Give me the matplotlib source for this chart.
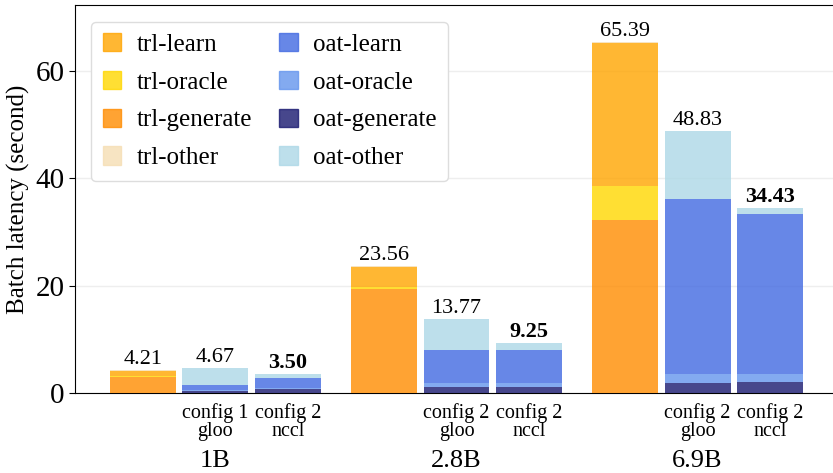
import numpy as np
import matplotlib
matplotlib.use("Agg")
import matplotlib.pyplot as plt
from matplotlib.patches import Patch

plt.rcParams['font.family'] = ['Liberation Serif', 'DejaVu Serif']

sizes = ['1B', '2.8B', '6.9B']
parts = ['generate', 'oracle', 'learn', 'other']

# stacked bottom -> top: generate, oracle, learn, other
trl_generate = [3.00, 19.30, 32.30]
trl_oracle = [0.25, 0.45, 6.20]
trl_learn = [0.80, 3.70, 26.60]
trl_other = [0.16, 0.11, 0.29]
trl_total = [4.21, 23.56, 65.39]

gloo_generate = [0.37, 1.20, 1.86]
gloo_oracle = [0.13, 0.70, 1.74]
gloo_learn = [1.00, 6.10, 32.46]
gloo_other = [3.17, 5.77, 12.77]
gloo_total = [4.67, 13.77, 48.83]
gloo_labels = ['config 1\ngloo', 'config 2\ngloo', 'config 2\ngloo']

nccl_generate = [0.80, 1.20, 2.10]
nccl_oracle = [0.10, 0.70, 1.37]
nccl_learn = [1.90, 6.20, 29.83]
nccl_other = [0.70, 1.15, 1.13]
nccl_total = [3.50, 9.25, 34.43]
nccl_labels = ['config 2\nnccl', 'config 2\nnccl', 'config 2\nnccl']

trl_colors = {'learn': 'orange', 'oracle': 'gold', 'generate': 'darkorange', 'other': 'wheat'}
oat_colors = {'learn': 'royalblue', 'oracle': 'cornflowerblue', 'generate': 'midnightblue', 'other': 'lightblue'}
alpha = 0.8

fig = plt.figure(figsize=(8.33, 4.73), dpi=100)
ax = fig.add_axes([0.09, 0.169, 0.91, 0.82])

gap = 3.33
centers = np.arange(len(sizes)) * gap
width = 0.91


def stack(x, layers, colors, total, bold):
    bottom = np.zeros(len(x))
    for name, vals in zip(parts, layers):
        ax.bar(x, vals, width, bottom=bottom, color=colors[name], alpha=alpha,
               linewidth=0, zorder=3)
        bottom = bottom + np.array(vals)
    for xi, t in zip(x, total):
        ax.text(xi, t + 0.2, f'{t:.2f}', ha='center', va='bottom', fontsize=16,
                fontweight='bold' if bold else 'normal')


stack(centers - 1, [trl_generate, trl_oracle, trl_learn, trl_other], trl_colors, trl_total, False)
stack(centers, [gloo_generate, gloo_oracle, gloo_learn, gloo_other], oat_colors, gloo_total, False)
stack(centers + 1, [nccl_generate, nccl_oracle, nccl_learn, nccl_other], oat_colors, nccl_total, True)

ax.set_xticks(list(centers) + list(centers + 1))
ax.set_xticklabels(gloo_labels + nccl_labels, fontsize=14.5, linespacing=0.95)
ax.tick_params(axis='x', length=0, pad=7)
for c, s in zip(centers, sizes):
    ax.text(c, -0.19, s, transform=ax.get_xaxis_transform(), ha='center', va='baseline', fontsize=19)

ax.set_ylim(0, 72.2)
ax.set_xlim(-1.94, centers[-1] + 1.87)
ax.set_yticks([0, 20, 40, 60])
ax.tick_params(axis='y', labelsize=21, length=4)
ax.set_ylabel('Batch latency (second)', fontsize=18)
ax.yaxis.grid(True, color='#eeeeee', linewidth=1, zorder=0)
ax.set_axisbelow(True)
ax.spines['right'].set_visible(False)

handles = [Patch(color=trl_colors[p], alpha=alpha, label='trl-' + p) for p in ['learn', 'oracle', 'generate', 'other']]
handles += [Patch(color=oat_colors[p], alpha=alpha, label='oat-' + p) for p in ['learn', 'oracle', 'generate', 'other']]
leg = ax.legend(handles=handles, ncol=2, loc='upper left', fontsize=18, handlelength=0.75,
                handleheight=0.75, columnspacing=1.1, labelspacing=0.6, borderpad=0.45,
                handletextpad=0.6, fancybox=True, framealpha=1, bbox_to_anchor=(0.005, 0.99))
leg.get_frame().set_edgecolor('#dddddd')

fig.savefig('out.png', dpi=100)
